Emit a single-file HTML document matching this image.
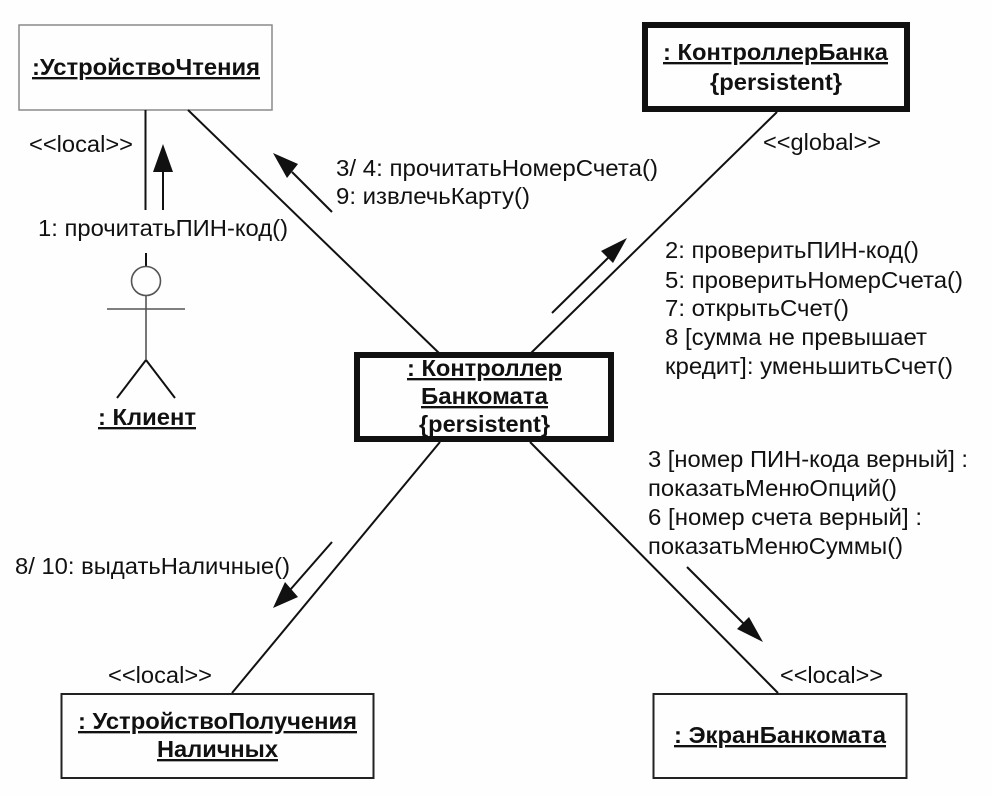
<!DOCTYPE html>
<html><head><meta charset="utf-8">
<style>
html,body{margin:0;padding:0;background:#fff;}
svg{display:block;}
text{font-family:"Liberation Sans",sans-serif;fill:#111;font-size:23.5px;}
.b{font-weight:bold;}
.u{text-decoration:underline;}
</style></head>
<body>
<svg width="992" height="796" viewBox="0 0 992 796" xmlns="http://www.w3.org/2000/svg">
<rect width="992" height="796" fill="#fefefe"/>
<g fill="none" stroke="#111">
<rect x="19" y="25" width="253" height="85" stroke="#8a8a8a" stroke-width="1.5"/>
<rect x="645" y="25" width="262" height="84" stroke-width="6"/>
<rect x="357" y="355" width="254" height="84" stroke-width="6"/>
<rect x="61.5" y="694" width="312" height="84" stroke="#222" stroke-width="2"/>
<rect x="653.5" y="694" width="253" height="84" stroke="#222" stroke-width="2"/>
<g stroke-width="2">
<line x1="145.5" y1="110" x2="145.5" y2="210"/>
<line x1="188" y1="110" x2="440" y2="354"/>
<line x1="777" y1="112" x2="530" y2="354"/>
<line x1="440" y1="442" x2="232" y2="693"/>
<line x1="530" y1="442" x2="778" y2="693"/>
<line x1="163" y1="210" x2="163" y2="170"/>
<line x1="332" y1="212" x2="292" y2="172"/>
<line x1="552" y1="313" x2="610" y2="256"/>
<line x1="332" y1="542" x2="290" y2="590"/>
<line x1="687" y1="567" x2="745" y2="625"/>
<line x1="146" y1="360" x2="117" y2="398"/>
<line x1="146" y1="360" x2="175" y2="398"/>
<line x1="146" y1="253" x2="146" y2="266"/>
</g>
<g stroke="#555" stroke-width="1.6">
<circle cx="146" cy="281" r="14.5"/>
<line x1="146" y1="295.5" x2="146" y2="360"/>
<line x1="107" y1="309" x2="185" y2="309"/>
</g>
</g>
<g fill="#111">
<polygon points="163,144 153,172 173,172"/>
<polygon points="273,153 287,178 298,164"/>
<polygon points="627,238 601,251 613,263"/>
<polygon points="273,608 285,582 298,597"/>
<polygon points="763,642 749,617 737,629"/>
</g>
<text class="b u" x="32" y="75" textLength="228" lengthAdjust="spacingAndGlyphs">:УстройствоЧтения</text>
<text class="b u" x="663" y="60" textLength="225" lengthAdjust="spacingAndGlyphs">: КонтроллерБанка</text>
<text class="b" x="710" y="90" textLength="132" lengthAdjust="spacingAndGlyphs">{persistent}</text>
<text class="b u" x="407" y="376" textLength="155" lengthAdjust="spacingAndGlyphs">: Контроллер</text>
<text class="b u" x="421" y="404" textLength="127" lengthAdjust="spacingAndGlyphs">Банкомата</text>
<text class="b" x="419" y="432" textLength="131" lengthAdjust="spacingAndGlyphs">{persistent}</text>
<text class="b u" x="78" y="729" textLength="279" lengthAdjust="spacingAndGlyphs">: УстройствоПолучения</text>
<text class="b u" x="157" y="757" textLength="121" lengthAdjust="spacingAndGlyphs">Наличных</text>
<text class="b u" x="674" y="743" textLength="212" lengthAdjust="spacingAndGlyphs">: ЭкранБанкомата</text>
<text class="b u" x="98" y="425" textLength="98" lengthAdjust="spacingAndGlyphs">: Клиент</text>
<text x="29" y="152" textLength="104" lengthAdjust="spacingAndGlyphs">&lt;&lt;local&gt;&gt;</text>
<text x="763" y="150" textLength="118" lengthAdjust="spacingAndGlyphs">&lt;&lt;global&gt;&gt;</text>
<text x="108" y="683" textLength="104" lengthAdjust="spacingAndGlyphs">&lt;&lt;local&gt;&gt;</text>
<text x="780" y="683" textLength="103" lengthAdjust="spacingAndGlyphs">&lt;&lt;local&gt;&gt;</text>
<text x="38" y="236" textLength="250" lengthAdjust="spacingAndGlyphs">1: прочитатьПИН-код()</text>
<text x="336" y="176" textLength="322" lengthAdjust="spacingAndGlyphs">3/ 4: прочитатьНомерСчета()</text>
<text x="336" y="204" textLength="194" lengthAdjust="spacingAndGlyphs">9: извлечьКарту()</text>
<text x="665" y="258" textLength="254" lengthAdjust="spacingAndGlyphs">2: проверитьПИН-код()</text>
<text x="665" y="288" textLength="298" lengthAdjust="spacingAndGlyphs">5: проверитьНомерСчета()</text>
<text x="665" y="316" textLength="184" lengthAdjust="spacingAndGlyphs">7: открытьСчет()</text>
<text x="665" y="345" textLength="262" lengthAdjust="spacingAndGlyphs">8 [сумма не превышает</text>
<text x="665" y="374" textLength="288" lengthAdjust="spacingAndGlyphs">кредит]: уменьшитьСчет()</text>
<text x="648" y="467" textLength="320" lengthAdjust="spacingAndGlyphs">3 [номер ПИН-кода верный] :</text>
<text x="648" y="496" textLength="249" lengthAdjust="spacingAndGlyphs">показатьМенюОпций()</text>
<text x="648" y="525" textLength="274" lengthAdjust="spacingAndGlyphs">6 [номер счета верный] :</text>
<text x="648" y="554" textLength="255" lengthAdjust="spacingAndGlyphs">показатьМенюСуммы()</text>
<text x="15" y="574" textLength="275" lengthAdjust="spacingAndGlyphs">8/ 10: выдатьНаличные()</text>
</svg>
</body></html>
